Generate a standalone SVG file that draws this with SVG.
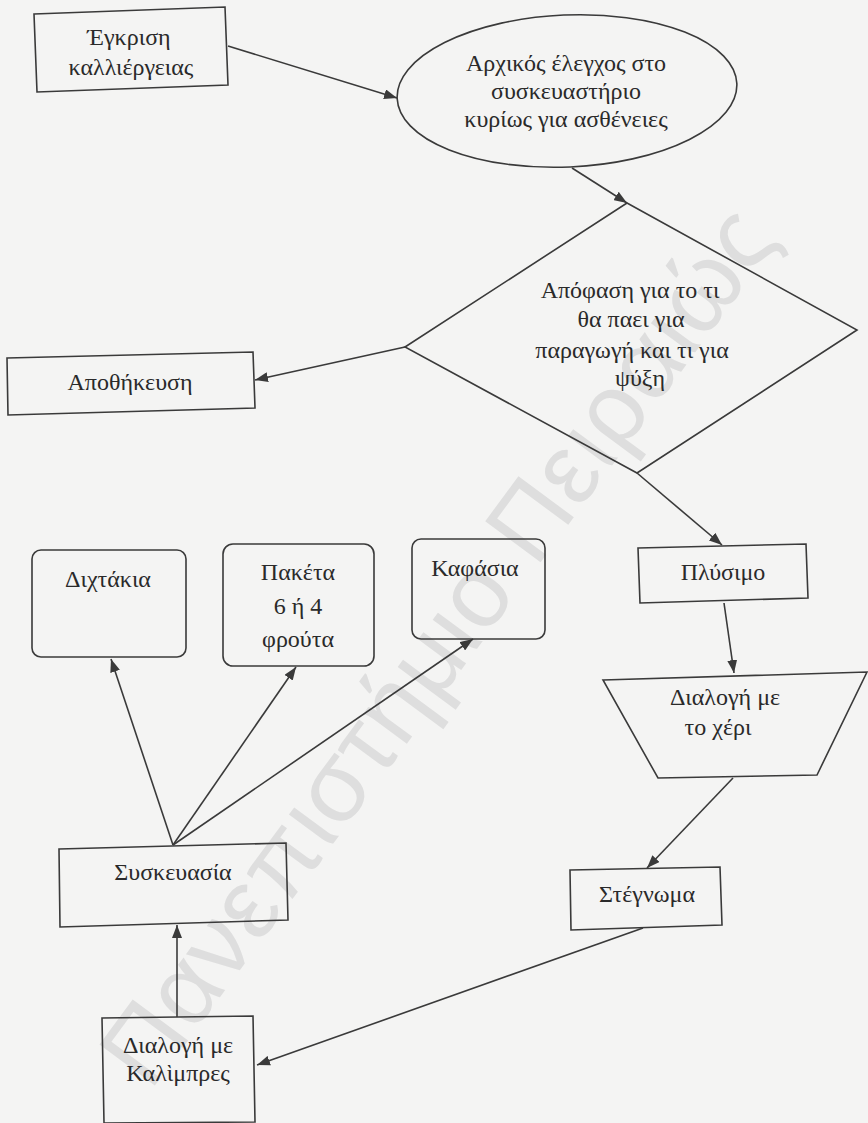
<svg xmlns="http://www.w3.org/2000/svg" width="868" height="1123" viewBox="0 0 868 1123">
<style>
.bg{fill:#f4f4f3}
.shape{fill:none;stroke:#3a3a3a;stroke-width:1.6}
.conn{fill:none;stroke:#3a3a3a;stroke-width:1.6;marker-end:url(#ah)}
.t{font-family:'Liberation Serif','DejaVu Serif','Noto Serif',serif;font-size:24px;fill:#2a2a2a;text-anchor:middle}
.wm{font-family:'Liberation Sans','DejaVu Sans',sans-serif;font-size:100px;fill:#dedede}
</style>
<defs>
<marker id="ah" markerUnits="userSpaceOnUse" markerWidth="13" markerHeight="10" refX="13" refY="5" orient="auto">
<path d="M0,0 L13,5 L0,10 z" fill="#3a3a3a"/>
</marker>
</defs>
<rect class="bg" x="0" y="0" width="868" height="1123"/>
<g id="watermark">
<text class="wm" x="0" y="0" textLength="1060" lengthAdjust="spacing" transform="translate(150,1092) rotate(-53.6)">Πανεπιστήμιο Πειραιώς</text>
</g>
<g id="connectors">
<line class="conn" x1="228" y1="46" x2="397" y2="98"/>
<line class="conn" x1="572" y1="168" x2="627" y2="203"/>
<line class="conn" x1="405" y1="347" x2="255" y2="380"/>
<line class="conn" x1="637" y1="473" x2="722" y2="545"/>
<line class="conn" x1="724" y1="603" x2="734" y2="673"/>
<line class="conn" x1="733" y1="778" x2="647" y2="868"/>
<line class="conn" x1="643" y1="928" x2="257" y2="1065"/>
<line class="conn" x1="177" y1="1017" x2="177" y2="925"/>
<line class="conn" x1="173" y1="845" x2="111" y2="659"/>
<line class="conn" x1="173" y1="845" x2="296" y2="667"/>
<line class="conn" x1="173" y1="845" x2="473" y2="639"/>
</g>
<g id="n-egkrisi">
<polygon class="shape" points="34,14 225,7 228,85 37,92"/>
<text class="t" x="129" y="45">Έγκριση</text>
<text class="t" x="131" y="75">καλλιέργειας</text>
</g>
<g id="n-elegxos">
<ellipse class="shape" cx="567" cy="91" rx="170" ry="76" transform="rotate(-2.5 567 91)"/>
<text class="t" x="566" y="71">Αρχικός έλεγχος στο</text>
<text class="t" x="566" y="99">συσκευαστήριο</text>
<text class="t" x="566" y="127">κυρίως για ασθένειες</text>
</g>
<g id="n-apofasi">
<polygon class="shape" points="627,203 857,330 637,473 405,347"/>
<text class="t" x="630" y="298">Απόφαση για το τι</text>
<text class="t" x="631" y="327">θα παει για</text>
<text class="t" x="632" y="358">παραγωγή και  τι για</text>
<text class="t" x="640" y="386">ψύξη</text>
</g>
<g id="n-apothikefsi">
<polygon class="shape" points="7,358 253,352 255,408 8,415"/>
<text class="t" x="130" y="390">Αποθήκευση</text>
</g>
<g id="n-plysimo">
<polygon class="shape" points="638,548 806,544 808,598 640,603"/>
<text class="t" x="723" y="580">Πλύσιμο</text>
</g>
<g id="n-dialogi-xeri">
<polygon class="shape" points="603,680 867,672 817,775 658,778"/>
<text class="t" x="725" y="705">Διαλογή με</text>
<text class="t" x="718" y="735">το χέρι</text>
</g>
<g id="n-stegnoma">
<polygon class="shape" points="570,870 720,867 722,925 571,930"/>
<text class="t" x="647" y="902">Στέγνωμα</text>
</g>
<g id="n-kalimpres">
<polygon class="shape" points="102,1018 253,1016 255,1122 104,1123"/>
<text class="t" x="178" y="1053">Διαλογή με</text>
<text class="t" x="178" y="1081">Καλὶμπρες</text>
</g>
<g id="n-syskevasia">
<polygon class="shape" points="59,849 286,843 288,920 60,927"/>
<text class="t" x="173" y="880">Συσκευασία</text>
</g>
<g id="n-diktakia">
<rect class="shape" x="32" y="550" width="154" height="107" rx="9"/>
<text class="t" x="108" y="587">Διχτάκια</text>
</g>
<g id="n-paketa">
<rect class="shape" x="223" y="544" width="151" height="122" rx="10"/>
<text class="t" x="298" y="580">Πακέτα</text>
<text class="t" x="298" y="614">6 ή 4</text>
<text class="t" x="298" y="647">φρούτα</text>
</g>
<g id="n-kafasia">
<rect class="shape" x="412" y="539" width="133" height="100" rx="9"/>
<text class="t" x="475" y="576">Καφάσια</text>
</g>
</svg>
